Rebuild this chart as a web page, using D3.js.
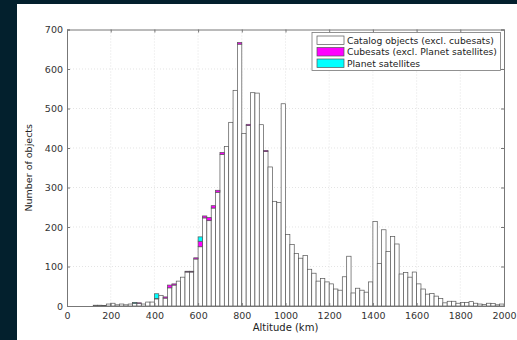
<!DOCTYPE html>
<html>
<head>
<meta charset="utf-8">
<script src="https://cdn.jsdelivr.net/npm/d3@7"></script>
<style>
  body { margin: 0; background: #03202d; }
  svg { display: block; font-family: "DejaVu Sans", sans-serif; }
</style>
</head>
<body>
<svg id="chart" width="517" height="340"></svg>
<script>
// altitude bins, 20 km wide
const binStarts = d3.range(0, 2000, 20);

// catalog objects (excl. cubesats), one count per bin
const catalog = [
  0, 0, 0, 0, 0, 0, 2, 2, 1, 5,
  7, 3, 5, 3, 5, 7, 7, 5, 10, 10,
  18, 27, 20, 46, 53, 63, 73, 86, 86, 119,
  150, 223, 216, 248, 288, 384, 404, 465, 546, 663,
  437, 457, 540, 539, 459, 391, 352, 265, 262, 512,
  181, 156, 133, 121, 128, 93, 83, 63, 70, 61,
  56, 43, 40, 74, 126, 33, 45, 40, 35, 61,
  214, 108, 193, 138, 176, 157, 81, 85, 73, 86,
  56, 43, 30, 32, 25, 19, 8, 12, 12, 7,
  9, 9, 11, 7, 5, 4, 7, 6, 3, 5
];

// cubesats (excl. Planet) : [bin start, count]
const cubesatBins = [
  [320, 1], [400, 1], [440, 3], [460, 7], [480, 3], [540, 2], [560, 2],
  [580, 3], [600, 14], [620, 5], [640, 8], [660, 6], [680, 5], [700, 5],
  [780, 4], [820, 3], [900, 3]
];

// Planet satellites : [bin start, count]
const planetBins = [[300, 2], [400, 12], [600, 11]];

const legendLabels = ["Catalog objects (excl. cubesats)", "Cubesats (excl. Planet satellites)", "Planet satellites"];
const colors = ["#ffffff", "#ff00ff", "#00ffff"];
const keys = ["catalog", "cubesats", "planet"];

const cubeMap = new Map(cubesatBins);
const planetMap = new Map(planetBins);
const table = binStarts.map((b, i) => ({
  bin: b,
  catalog: catalog[i],
  cubesats: cubeMap.get(b) || 0,
  planet: planetMap.get(b) || 0
}));

const svg = d3.select("#chart");
const mLeft = 67, mRight = 504, mTop = 29.5, mBottom = 306;

svg.append("rect").attr("x", 17).attr("y", 4).attr("width", 500).attr("height", 336).attr("fill", "#fff");

const x = d3.scaleLinear().domain([0, 2000]).range([mLeft, mRight]);
const y = d3.scaleLinear().domain([0, 700]).range([mBottom, mTop]);

// grid
const grid = svg.append("g").attr("stroke", "#d8d8d8").attr("stroke-dasharray", "1,2").attr("stroke-width", 0.7);
grid.selectAll(".gx").data(d3.range(200, 2000, 200)).enter().append("line")
  .attr("x1", d => x(d)).attr("x2", d => x(d)).attr("y1", mTop).attr("y2", mBottom);
grid.selectAll(".gy").data(d3.range(100, 700, 100)).enter().append("line")
  .attr("y1", d => y(d)).attr("y2", d => y(d)).attr("x1", mLeft).attr("x2", mRight);

// stacked bars
const stack = d3.stack().keys(keys)(table);
stack.forEach((layer, k) => {
  svg.append("g").selectAll("rect").data(layer.filter(d => d[1] > d[0])).enter()
    .append("rect")
    .attr("x", d => x(d.data.bin))
    .attr("width", d => x(d.data.bin + 20) - x(d.data.bin))
    .attr("y", d => y(d[1]))
    .attr("height", d => y(d[0]) - y(d[1]))
    .attr("fill", colors[k])
    .attr("stroke", "#555")
    .attr("stroke-width", 0.7);
});

// axes
const xAxis = svg.append("g").attr("transform", `translate(0,${mBottom})`)
  .call(d3.axisBottom(x).tickValues(d3.range(0, 2001, 200)).tickFormat(d3.format("d")).tickSize(-3).tickPadding(5));
const yAxis = svg.append("g").attr("transform", `translate(${mLeft},0)`)
  .call(d3.axisLeft(y).tickValues(d3.range(0, 701, 100)).tickFormat(d3.format("d")).tickSize(-3).tickPadding(4));
svg.append("g").attr("transform", `translate(0,${mTop})`)
  .call(d3.axisTop(x).tickValues(d3.range(0, 2001, 200)).tickSize(-3).tickFormat(""));
svg.append("g").attr("transform", `translate(${mRight},0)`)
  .call(d3.axisRight(y).tickValues(d3.range(0, 701, 100)).tickSize(-3).tickFormat(""));
svg.selectAll(".domain").attr("stroke", "#777");
svg.selectAll(".tick line").attr("stroke", "#777");
svg.selectAll(".tick text").attr("fill", "#333").style("font-size", "9.5px").style("font-family", "DejaVu Sans");
xAxis.selectAll(".tick text").attr("dy", "0.8em");

// axis titles
svg.append("text").attr("x", (mLeft + mRight) / 2).attr("y", 331).attr("text-anchor", "middle")
  .attr("fill", "#222").style("font-size", "10px").text("Altitude (km)");
svg.append("text").attr("transform", `translate(32,${(mTop + mBottom) / 2}) rotate(-90)`).attr("text-anchor", "middle")
  .attr("fill", "#222").style("font-size", "9.5px").text("Number of objects");

// legend
const lg = svg.append("g").attr("transform", "translate(312,32.5)");
lg.append("rect").attr("width", 188.5).attr("height", 38).attr("fill", "#fff").attr("stroke", "#777").attr("stroke-width", 0.8);
legendLabels.forEach((t, i) => {
  lg.append("rect").attr("x", 5).attr("y", 3.5 + i * 11.5).attr("width", 27).attr("height", 8.5)
    .attr("fill", colors[i]).attr("stroke", "#555").attr("stroke-width", 0.7);
  lg.append("text").attr("x", 35).attr("y", 11.3 + i * 11.5).attr("fill", "#222")
    .style("font-size", "9.2px").text(t);
});
</script>
</body>
</html>
